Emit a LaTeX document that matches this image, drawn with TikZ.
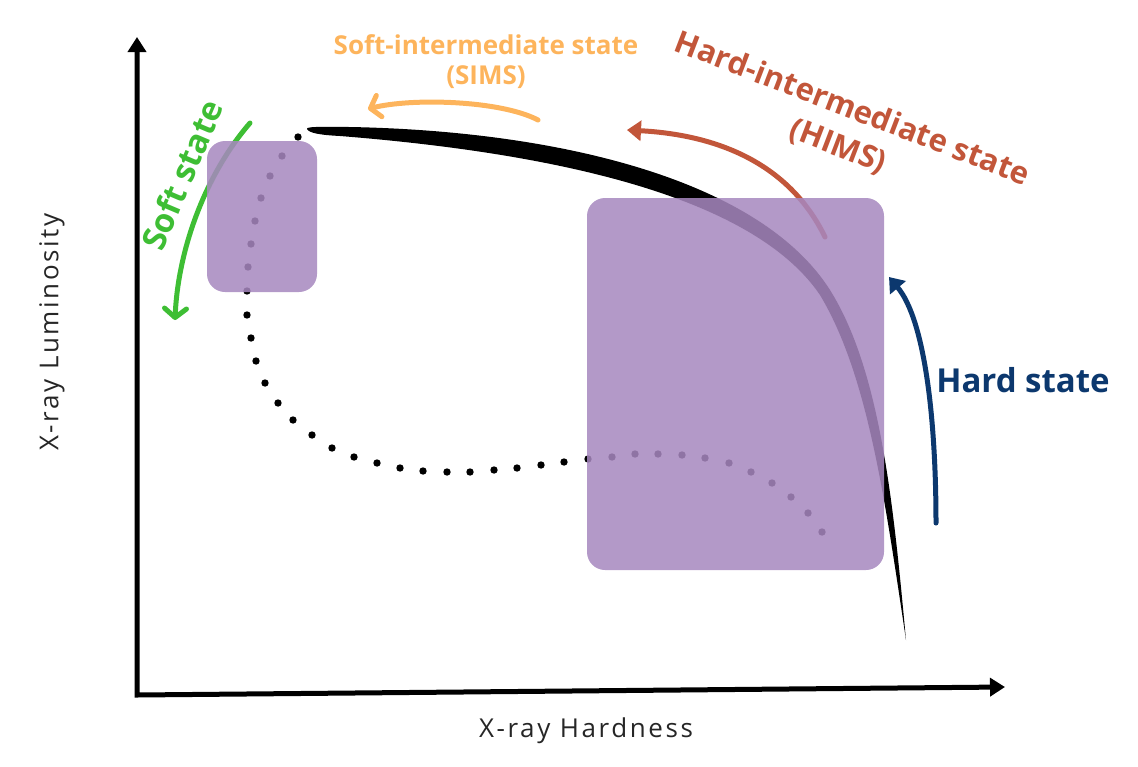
\documentclass[tikz,border=0pt]{standalone}
\usepackage{fontspec}
\setmainfont{Open Sans}
\newfontfamily\axisfont[LetterSpace=10]{Open Sans}
\usetikzlibrary{arrows.meta}
\definecolor{simsorange}{RGB}{253,180,92}
\definecolor{himsred}{RGB}{194,86,58}
\definecolor{softgreen}{RGB}{62,190,52}
\definecolor{hardblue}{RGB}{12,56,110}
\definecolor{boxpurple}{RGB}{167,136,191}
\begin{document}
\begin{tikzpicture}[x=1pt, y=-1pt,
    statebox/.style={fill=boxpurple, fill opacity=0.86, rounded corners=18pt},
    statearrow/.style={line width=5pt, line cap=round},
    statetext/.style 2 args={font=\bfseries\fontsize{#1}{#2}\selectfont, align=center, inner sep=0pt},
    axistext/.style={font=\axisfont\fontsize{26}{30}\selectfont, text=black!85, inner sep=0pt}]
\useasboundingbox (0,0) rectangle (1138,766);
% axes
\draw[line width=5pt, line join=miter, {Triangle[length=15pt,width=18pt]}-{Triangle[length=15pt,width=18pt]}]
    (137,37) -- (137,695) -- (1005,687);
\node[axistext] (hardness) at (586,731) {X-ray Hardness};
\node[axistext, rotate=90] (luminosity) at (52,332) {X-ray Luminosity};
% outburst track
\fill (307,129) .. controls (305,126) and (330,127) .. (350,127)
    .. controls (560,131) and (760,180) .. (830,290)
    .. controls (880,370) and (893,500) .. (906,640)
    .. controls (885,500) and (868,375) .. (820,295)
    .. controls (750,192) and (540,152) .. (340,136)
    .. controls (320,135) and (309,133) .. (307,129) -- cycle;
\foreach \x/\y in {298/137, 282/156, 270/176, 261/198, 255/221, 251/244, 248/267, 247/291,
    247/315, 251/338, 256/361, 265/383, 278/403, 293/420, 312/435, 332/448, 354/457, 377/463,
    400/468, 423/471, 447/472, 470/472, 494/470, 517/468, 541/465, 564/462, 588/459, 612/457,
    635/454, 658/454, 682/455, 705/458, 729/463, 751/472, 772/483, 791/497, 808/513, 822/532}
    \fill (\x,\y) circle (3.7pt);
% state arrows under the boxes
\draw[statearrow, softgreen, -{Straight Barb[round,length=9pt,width=22pt]}]
    (250,123) .. controls (205,175) and (178,250) .. (175,320);
\draw[statearrow, himsred, -{Triangle[length=14pt,width=20pt]}]
    (825,237) .. controls (790,165) and (720,135) .. (627,130);
% boxes
\fill[statebox] (207,141) rectangle (317,292);
\fill[statebox] (587,198) rectangle (884,570);
% arrows and labels
\draw[statearrow, simsorange, -{Straight Barb[round,length=9pt,width=22pt]}]
    (538,120) .. controls (500,100) and (410,98) .. (368,109);
\draw[statearrow, hardblue, -{Triangle[length=14pt,width=20pt]}]
    (936,523) .. controls (936,420) and (925,320) .. (889,277);
\node[statetext={26}{30}, text=simsorange] (sims) at (486,62) {Soft-intermediate state\\(SIMS)};
\node[statetext={31}{40}, text=himsred, rotate=-21] (hims) at (845,128) {Hard-intermediate state\\(HIMS)};
\node[statetext={33}{36}, text=softgreen, rotate=67] (soft) at (182,175) {Soft state};
\node[statetext={33}{36}, text=hardblue] (hard) at (1023,380) {Hard state};
\end{tikzpicture}
\end{document}
